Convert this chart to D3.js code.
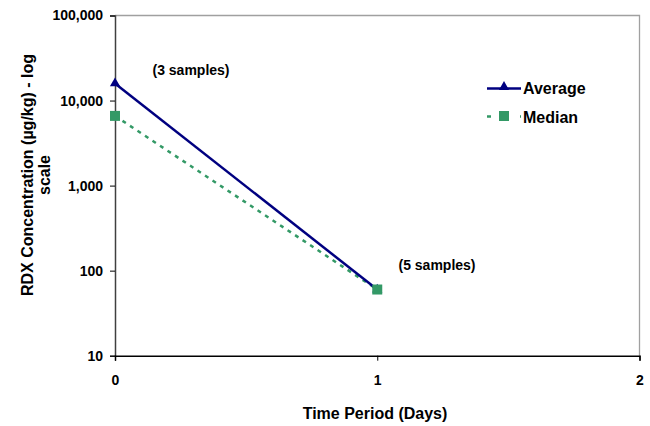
<!DOCTYPE html>
<html><head><meta charset="utf-8">
<script src="https://cdn.jsdelivr.net/npm/d3@7"></script>
<style>body{margin:0;background:#fff}svg{display:block}text{font-family:"Liberation Sans",Arial,sans-serif;font-weight:bold;fill:#000}</style>
</head><body><svg id="c" width="650" height="426"></svg>
<script>
const days = [0, 1];
const average = [15900, 60];
const median = [6600, 60];
const sampleNotes = ["(3 samples)", "(5 samples)"];
const yTicks = [10, 100, 1000, 10000, 100000];
const xTicks = [0, 1, 2];

const svg = d3.select("#c");
const m = {l:115, r:639.5, t:15.5, b:355.7};
const x = d3.scaleLinear().domain([0,2]).range([m.l, m.r]);
const y = d3.scaleLog().domain([10,100000]).range([m.b, m.t]);

svg.append("path").attr("d",`M${m.l},${m.t}H${m.r}V${m.b}`).attr("fill","none").attr("stroke","#a0a0a0").attr("stroke-width",1.3);

const fmt = d3.format(",");
const ya = svg.append("g").attr("transform",`translate(${m.l},0)`)
  .call(d3.axisLeft(y).tickValues(yTicks).tickFormat(fmt).tickSize(5).tickPadding(7))
  .attr("font-size",14).attr("font-family",null);
ya.select(".domain").attr("stroke","#404040").attr("stroke-width",1.5);
ya.selectAll(".tick line").attr("stroke","#000");
ya.selectAll("text").style("font-size","14px");

const xa = svg.append("g").attr("transform",`translate(0,${m.b})`)
  .call(d3.axisBottom(x).tickValues(xTicks).tickFormat(d3.format("d")).tickSize(5).tickPadding(14))
  .attr("font-size",14).attr("font-family",null);
xa.select(".domain").attr("stroke","#000").attr("stroke-width",1.5);
xa.selectAll(".tick line").attr("stroke","#000");
xa.selectAll("text").style("font-size","14px");

svg.append("text").attr("x",375).attr("y",419).attr("text-anchor","middle").style("font-size","16px").text("Time Period (Days)");
const yt = svg.append("text").attr("transform","translate(27,175) rotate(-90)").attr("text-anchor","middle").style("font-size","16px");
yt.append("tspan").attr("x",0).attr("dy","0.35em").text("RDX Concentration (\u00b5g/kg) - log");
yt.append("tspan").attr("x",0).attr("dy","1.1em").text("scale");

const line = d3.line().x((d,i)=>x(days[i])).y(d=>y(d));
const navy = "#000080", green = "#339966";
svg.append("path").datum(median).attr("d",line).attr("fill","none").attr("stroke",green).attr("stroke-width",2.5).attr("stroke-dasharray","4,5");
svg.append("path").datum(average).attr("d",line).attr("fill","none").attr("stroke",navy).attr("stroke-width",2.5);

const tri = d3.symbol().type(d3.symbolTriangle).size(45);
svg.selectAll(".tri").data(average).join("path").attr("transform",(d,i)=>`translate(${x(days[i])},${y(d)})`).attr("d",tri).attr("fill",navy);
svg.selectAll(".sq").data(median).join("rect").attr("x",(d,i)=>x(days[i])-5).attr("y",d=>y(d)-5).attr("width",10).attr("height",10).attr("fill",green);

svg.append("text").attr("x",191).attr("y",75).attr("text-anchor","middle").style("font-size","14px").text(sampleNotes[0]);
svg.append("text").attr("x",437).attr("y",270).attr("text-anchor","middle").style("font-size","14px").text(sampleNotes[1]);

const lg = svg.append("g");
lg.append("line").attr("x1",487).attr("x2",521).attr("y1",88.5).attr("y2",88.5).attr("stroke",navy).attr("stroke-width",2.5);
lg.append("path").attr("transform","translate(504,87)").attr("d",tri).attr("fill",navy);
lg.append("text").attr("x",523).attr("y",94).style("font-size","16px").text("Average");
lg.append("line").attr("x1",487).attr("x2",521).attr("y1",116.5).attr("y2",116.5).attr("stroke",green).attr("stroke-width",2.5).attr("stroke-dasharray","4,12.5");
lg.append("rect").attr("x",499).attr("y",111).attr("width",10).attr("height",10).attr("fill",green);
lg.append("text").attr("x",523).attr("y",122.5).style("font-size","16px").text("Median");
</script></body></html>
